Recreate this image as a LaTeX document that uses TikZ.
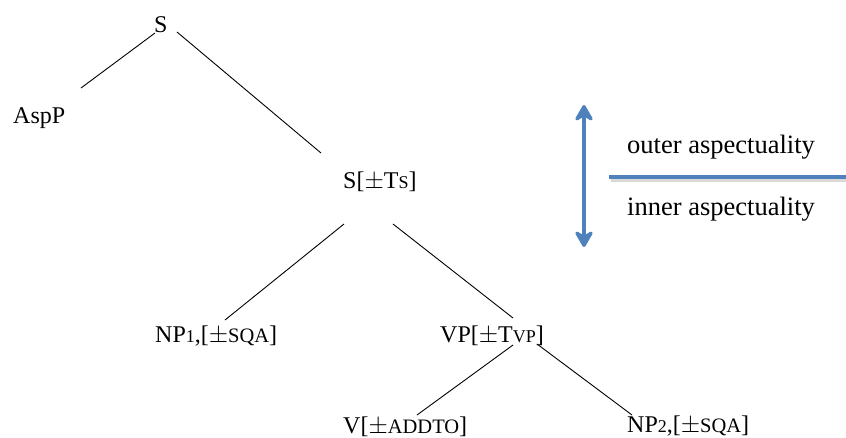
\documentclass[tikz,border=0pt]{standalone}
\usepackage{fontspec}
\setmainfont{Liberation Serif}
\usetikzlibrary{arrows.meta,calc}
\definecolor{accent}{HTML}{4F81BD}
\newcommand{\subtxt}[1]{{\fontsize{18}{20}\selectfont #1}}
\newcommand{\sctxt}[1]{{\fontsize{20.5}{22}\selectfont #1}}
\begin{document}
\begin{tikzpicture}[x=1pt,y=-1pt,
  lbl/.style={inner sep=0pt,anchor=base west,font=\fontsize{24}{28}\selectfont},
  sidelbl/.style={inner sep=0pt,anchor=base west,font=\fontsize{26.5}{30}\selectfont},
  branch/.style={draw=black,line width=0.9pt},
  bluebar/.style={draw=accent,line width=4.5pt},
  shadowbar/.style={draw=black!15,line width=4.5pt}]
\useasboundingbox (0,0) rectangle (846,437);
\node[lbl] (S) at (154,32) {S};
\node[lbl] (AspP) at (13,123) {AspP};
\node[lbl] (ST) at (343,188) {S[$\pm$T\subtxt{S}]};
\node[lbl] (NP1) at (155,342) {NP\subtxt{1},[$\pm$\sctxt{SQA}]};
\node[lbl] (VP) at (440,342) {VP[$\pm$T\subtxt{VP}]};
\node[lbl] (V) at (343,433) {V[$\pm$\sctxt{ADDTO}]};
\node[lbl] (NP2) at (627,432) {NP\subtxt{2},[$\pm$\sctxt{SQA}]};
\draw[branch] ($(S.base west)+(1,1)$) -- ($(AspP.base west)+(68,-35)$);
\draw[branch] ($(S.base west)+(23,0)$) -- ($(ST.base west)+(-22,-35)$);
\draw[branch] ($(ST.base west)+(1,36)$) -- ($(NP1.base west)+(70,-22)$);
\draw[branch] ($(ST.base west)+(50,36)$) -- ($(VP.base west)+(73,-24)$);
\draw[branch] ($(VP.base west)+(73,3)$) -- ($(V.base west)+(74,-18)$);
\draw[branch] ($(VP.base west)+(97,2)$) -- ($(NP2.base west)+(5,-17)$);
\node[sidelbl] (outer) at (627,153) {outer aspectuality};
\node[sidelbl] (inner) at (627,215) {inner aspectuality};
\coordinate (arrtop) at (584,105);
\coordinate (arrbot) at (584,247);
\coordinate (barl) at (609,177);
\coordinate (barr) at (846,177);
\draw[shadowbar] ($(barl)+(1.5,2.5)$) -- ($(barr)+(1.5,2.5)$);
\draw[bluebar] (barl) -- (barr);
\draw[bluebar,{Stealth[length=20pt,width=23pt,inset=7pt,round]}-{Stealth[length=20pt,width=23pt,inset=7pt,round]}] (arrtop) -- (arrbot);
\end{tikzpicture}
\end{document}
